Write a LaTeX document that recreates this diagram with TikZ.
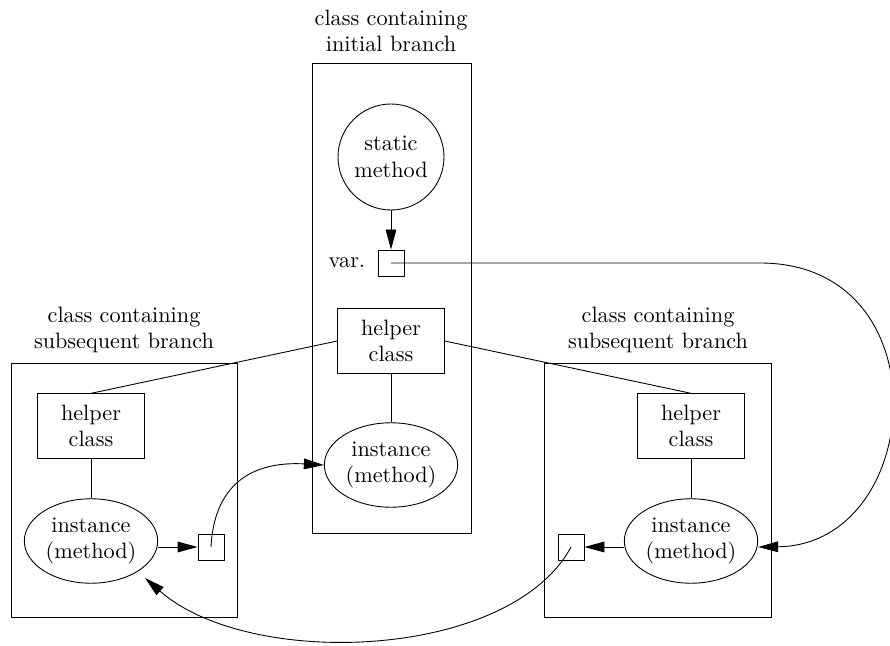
\documentclass[tikz,border=0pt]{standalone}
\usetikzlibrary{arrows.meta,shapes.geometric}

\begin{document}
\begin{tikzpicture}[x=0.45pt,y=-0.45pt,>={Triangle[length=9pt,width=4.8pt]},helper/.style={draw, rectangle, align=center, inner sep=0pt, minimum width=48pt, minimum height=29pt},inst/.style={draw, ellipse, align=center, inner sep=0pt, minimum width=60pt, minimum height=38pt},slot/.style={draw, rectangle, inner sep=0pt, minimum size=11.7pt},title/.style={align=center}]
\useasboundingbox (0,0) rectangle (890,646);
% containers
\draw (312,63) rectangle (471,533);\draw (11,363) rectangle (237,617);\draw (544,363) rectangle (771,617);
\node[title] (tmain) at (391,31) {class containing\\initial branch};
\node[title] (tleft) at (124,330) {class containing\\subsequent branch};
\node[title] (tright) at (658,330) {class containing\\subsequent branch};
% initial branch
\node[draw, circle, align=center, inner sep=0pt, minimum size=47.7pt] (static) at (391,157) {static\\method};
\node[slot] (var) at (391,263) {};\node[anchor=east] (varlab) at (373,263) {var.};
\node[helper] (hmain) at (391,341) {helper\\class};
\node[inst] (imain) at (391,465) {instance\\(method)};
% subsequent branches
\node[helper] (hleft) at (91,426) {helper\\class};\node[inst] (ileft) at (91,541) {instance\\(method)};\node[slot] (sleft) at (211,547) {};
\node[helper] (hright) at (691,426) {helper\\class};\node[inst] (iright) at (691,541) {instance\\(method)};\node[slot] (sright) at (571,547) {};
\coordinate (bend) at (760,263);
% connectors
\draw[->] (static) -- (var);\draw (hmain) -- (imain);\draw (hleft) -- (ileft);\draw (hright) -- (iright);
\draw (hmain.west) -- (hleft.north);\draw (hmain.east) -- (hright.north);
\draw[->] (ileft.east |- sleft) -- (sleft.west);\draw[->] (iright.west |- sright) -- (sright.east);
\draw[->] (sleft.center) .. controls (215,470) and (270,462) .. (imain.west);
\draw[->] (var.center) -- (bend) .. controls (945,263) and (925,545) .. (iright.east |- sright);
\draw[->] (sright.center) .. controls (510,660) and (250,670) .. (145,578);
\end{tikzpicture}
\end{document}
